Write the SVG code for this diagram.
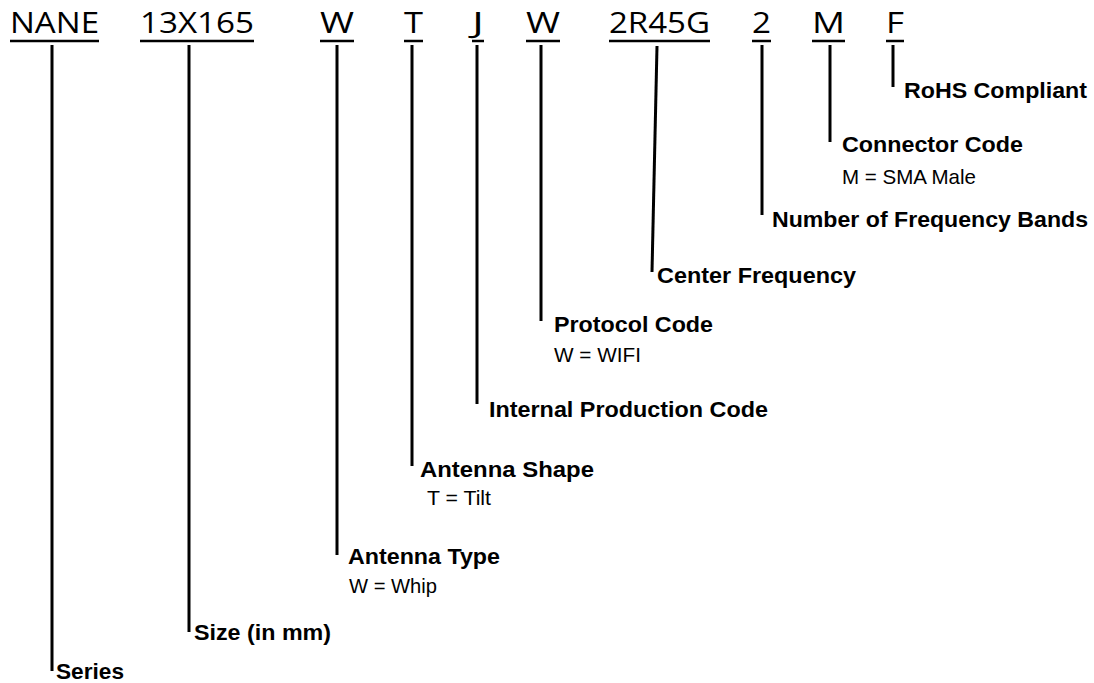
<svg xmlns="http://www.w3.org/2000/svg" width="1094" height="683" viewBox="0 0 1094 683">
<style>
.code{font-family:"Open Sans","Liberation Sans",sans-serif;font-size:29px;fill:#000}
.ul{stroke:#000;stroke-width:2.5}
.ln{stroke:#000;stroke-width:3;fill:none}
.b{font-family:"Liberation Sans",Arial,sans-serif;font-weight:bold;font-size:22px;fill:#000}
.r{font-family:"Liberation Sans",Arial,sans-serif;font-size:21px;fill:#000}
</style>
<rect width="1094" height="683" fill="#fff"/>
<g id="codes">
<g id="code-nane"><text class="code" x="10" y="33" textLength="89" lengthAdjust="spacingAndGlyphs">NANE</text><line class="ul" x1="10" y1="41" x2="99" y2="41"/></g>
<g id="code-size"><text class="code" x="140" y="33" textLength="114" lengthAdjust="spacingAndGlyphs">13X165</text><line class="ul" x1="140" y1="41" x2="254" y2="41"/></g>
<g id="code-w1"><text class="code" x="320" y="33" textLength="34" lengthAdjust="spacingAndGlyphs">W</text><line class="ul" x1="320" y1="41" x2="354" y2="41"/></g>
<g id="code-t"><text class="code" x="404" y="33" textLength="19" lengthAdjust="spacingAndGlyphs">T</text><line class="ul" x1="404" y1="41" x2="423" y2="41"/></g>
<g id="code-j"><text class="code" x="472" y="33" textLength="12" lengthAdjust="spacingAndGlyphs">J</text><line class="ul" x1="472" y1="41" x2="484" y2="41"/></g>
<g id="code-w2"><text class="code" x="526" y="33" textLength="34" lengthAdjust="spacingAndGlyphs">W</text><line class="ul" x1="526" y1="41" x2="560" y2="41"/></g>
<g id="code-freq"><text class="code" x="609" y="33" textLength="101" lengthAdjust="spacingAndGlyphs">2R45G</text><line class="ul" x1="609" y1="41" x2="710" y2="41"/></g>
<g id="code-2"><text class="code" x="752" y="33" textLength="19" lengthAdjust="spacingAndGlyphs">2</text><line class="ul" x1="752" y1="41" x2="771" y2="41"/></g>
<g id="code-m"><text class="code" x="812" y="33" textLength="33" lengthAdjust="spacingAndGlyphs">M</text><line class="ul" x1="812" y1="41" x2="845" y2="41"/></g>
<g id="code-f"><text class="code" x="886" y="33" textLength="18" lengthAdjust="spacingAndGlyphs">F</text><line class="ul" x1="886" y1="41" x2="904" y2="41"/></g>
</g>
<g id="connectors">
<line class="ln" x1="52" y1="45" x2="52" y2="671"/>
<line class="ln" x1="189" y1="45" x2="189" y2="632"/>
<line class="ln" x1="337" y1="45" x2="337" y2="555"/>
<line class="ln" x1="412" y1="45" x2="412" y2="466"/>
<line class="ln" x1="477" y1="45" x2="477" y2="404"/>
<line class="ln" x1="541" y1="45" x2="541" y2="321"/>
<line class="ln" x1="657" y1="46" x2="652" y2="272"/>
<line class="ln" x1="762" y1="45" x2="762" y2="215"/>
<line class="ln" x1="830" y1="45" x2="830" y2="142"/>
<line class="ln" x1="893" y1="45" x2="893" y2="87"/>
</g>
<g id="label-rohs"><text class="b" x="904" y="98" textLength="183" lengthAdjust="spacingAndGlyphs">RoHS Compliant</text></g>
<g id="label-connector"><text class="b" x="842" y="152" textLength="181" lengthAdjust="spacingAndGlyphs">Connector Code</text><text class="r" x="842" y="184" textLength="134" lengthAdjust="spacingAndGlyphs">M = SMA Male</text></g>
<g id="label-bands"><text class="b" x="772" y="227" textLength="316" lengthAdjust="spacingAndGlyphs">Number of Frequency Bands</text></g>
<g id="label-center"><text class="b" x="657" y="283" textLength="199" lengthAdjust="spacingAndGlyphs">Center Frequency</text></g>
<g id="label-protocol"><text class="b" x="554" y="332" textLength="159" lengthAdjust="spacingAndGlyphs">Protocol Code</text><text class="r" x="554" y="362" textLength="87" lengthAdjust="spacingAndGlyphs">W = WIFI</text></g>
<g id="label-internal"><text class="b" x="489" y="417" textLength="279" lengthAdjust="spacingAndGlyphs">Internal Production Code</text></g>
<g id="label-shape"><text class="b" x="420" y="477" textLength="174" lengthAdjust="spacingAndGlyphs">Antenna Shape</text><text class="r" x="427" y="505" textLength="64" lengthAdjust="spacingAndGlyphs">T = Tilt</text></g>
<g id="label-type"><text class="b" x="348" y="564" textLength="152" lengthAdjust="spacingAndGlyphs">Antenna Type</text><text class="r" x="349" y="593" textLength="88" lengthAdjust="spacingAndGlyphs">W = Whip</text></g>
<g id="label-size"><text class="b" x="194" y="640" textLength="137" lengthAdjust="spacingAndGlyphs">Size (in mm)</text></g>
<g id="label-series"><text class="b" x="56" y="679" textLength="68" lengthAdjust="spacingAndGlyphs">Series</text></g>
</svg>
